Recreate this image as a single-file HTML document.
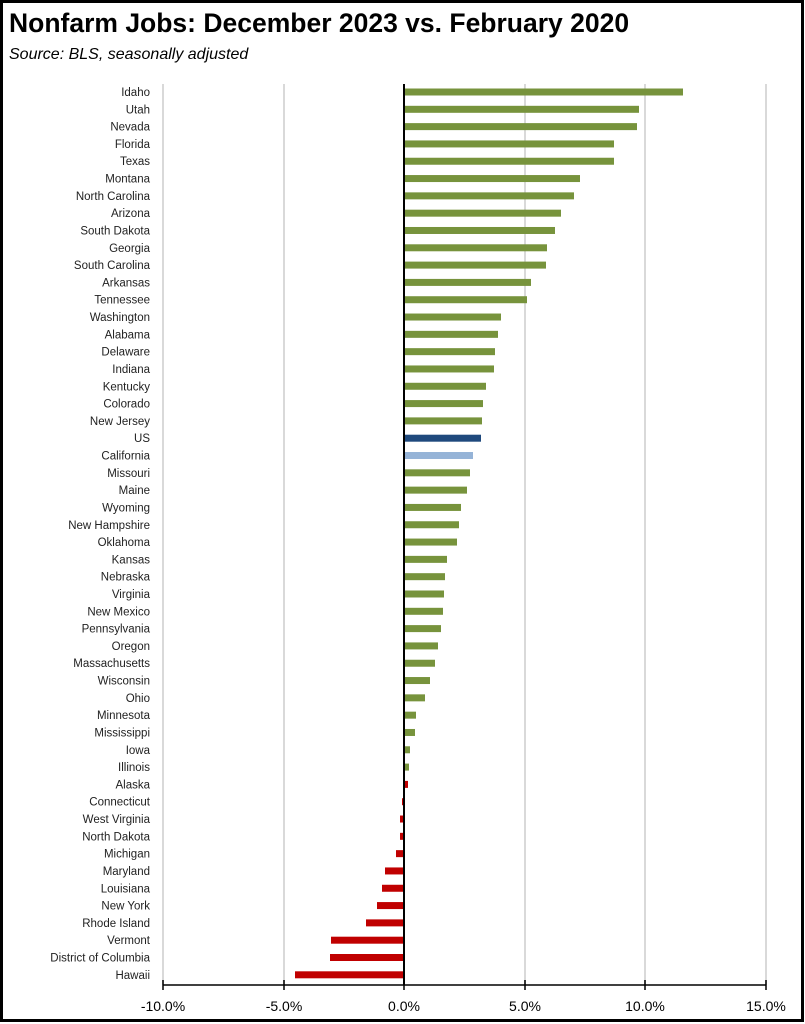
<!DOCTYPE html>
<html><head><meta charset="utf-8"><style>
html,body{margin:0;padding:0;background:#fff}
svg{display:block}
text{font-family:"Liberation Sans",sans-serif}
</style></head><body>
<svg width="805" height="1024" viewBox="0 0 805 1024" xmlns="http://www.w3.org/2000/svg">
<rect x="1.5" y="1.5" width="801" height="1019" fill="#fff" stroke="#000" stroke-width="3"/>
<text x="9" y="32" font-size="26.5" font-weight="bold" fill="#000">Nonfarm Jobs:  December 2023 vs. February 2020</text>
<text x="9" y="59" font-size="16" font-style="italic" fill="#000">Source:  BLS, seasonally adjusted</text>
<g stroke="#d9d9d9" stroke-width="2">
<line x1="163" y1="84" x2="163" y2="985"/><line x1="284" y1="84" x2="284" y2="985"/>
<line x1="525" y1="84" x2="525" y2="985"/><line x1="645" y1="84" x2="645" y2="985"/><line x1="766" y1="84" x2="766" y2="985"/>
</g>
<g id="bars"></g>
<g id="labels" font-size="11.5" fill="#222" text-anchor="end"></g>
<line x1="404" y1="84" x2="404" y2="985" stroke="#000" stroke-width="2"/>
<line x1="163" y1="985" x2="766" y2="985" stroke="#000" stroke-width="1.5"/>
<g stroke="#000" stroke-width="1.5">
<line x1="163" y1="980" x2="163" y2="990"/><line x1="284" y1="980" x2="284" y2="990"/><line x1="404" y1="980" x2="404" y2="990"/>
<line x1="525" y1="980" x2="525" y2="990"/><line x1="645" y1="980" x2="645" y2="990"/><line x1="766" y1="980" x2="766" y2="990"/>
</g>
<g font-size="14" fill="#000" text-anchor="middle">
<text x="163" y="1011">-10.0%</text><text x="284" y="1011">-5.0%</text><text x="404" y="1011">0.0%</text>
<text x="525" y="1011">5.0%</text><text x="645" y="1011">10.0%</text><text x="766" y="1011">15.0%</text>
</g>
<script>
var d=[["Idaho",683],["Utah",639],["Nevada",637],["Florida",614],["Texas",614],["Montana",580],["North Carolina",574],["Arizona",561],["South Dakota",555],["Georgia",547],["South Carolina",546],["Arkansas",531],["Tennessee",527],["Washington",501],["Alabama",498],["Delaware",495],["Indiana",494],["Kentucky",486],["Colorado",483],["New Jersey",482],["US",481,"#1f497d"],["California",473,"#95b3d7"],["Missouri",470],["Maine",467],["Wyoming",461],["New Hampshire",459],["Oklahoma",457],["Kansas",447],["Nebraska",445],["Virginia",444],["New Mexico",443],["Pennsylvania",441],["Oregon",438],["Massachusetts",435],["Wisconsin",430],["Ohio",425],["Minnesota",416],["Mississippi",415],["Iowa",410],["Illinois",409],["Alaska",408,"#c00000"],["Connecticut",402,"#c00000"],["West Virginia",400,"#c00000"],["North Dakota",400,"#c00000"],["Michigan",396,"#c00000"],["Maryland",385,"#c00000"],["Louisiana",382,"#c00000"],["New York",377,"#c00000"],["Rhode Island",366,"#c00000"],["Vermont",331,"#c00000"],["District of Columbia",330,"#c00000"],["Hawaii",295,"#c00000"]];
var ns="http://www.w3.org/2000/svg",b=document.getElementById("bars"),l=document.getElementById("labels");
d.forEach(function(r,i){var y=92+i*17.31;var c=r[2]||"#77933c";
var x0=Math.min(404,r[1]),w=Math.abs(r[1]-404);
var re=document.createElementNS(ns,"rect");re.setAttribute("x",x0);re.setAttribute("y",y-3.5);re.setAttribute("width",w);re.setAttribute("height",7);re.setAttribute("fill",c);b.appendChild(re);
var t=document.createElementNS(ns,"text");t.setAttribute("x",150);t.setAttribute("y",y+4);t.textContent=r[0];l.appendChild(t);});
</script>
</svg>
</body></html>
